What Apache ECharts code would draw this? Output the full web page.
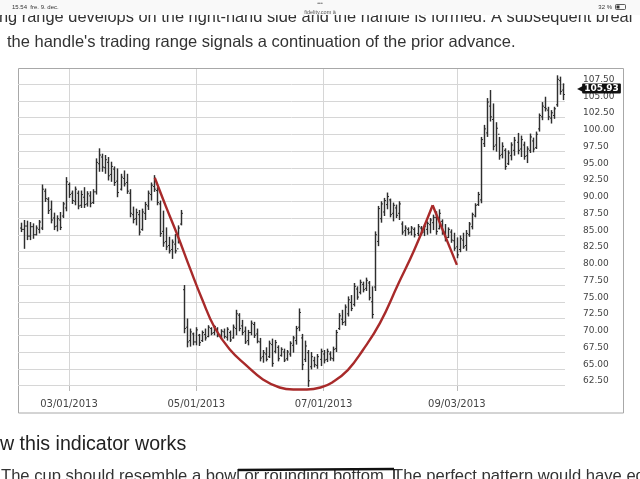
<!DOCTYPE html>
<html><head><meta charset="utf-8">
<script src="https://cdn.jsdelivr.net/npm/echarts@6/dist/echarts.min.js"></script>
<style>html,body{margin:0;padding:0;background:#fff;overflow:hidden}#c{width:640px;height:479px}</style>
</head><body><div id="c"></div>
<script>
// ---- calendar (trading days) and axis labels ----
const startDate = '2013-02-06';
const marketHolidays = ['2013-02-18','2013-03-29','2013-05-27','2013-07-04','2013-09-02'];
const tickLabels = ['03/01/2013','05/01/2013','07/01/2013','09/03/2013'];
const yTickMin = 62.5, yTickMax = 107.5, yTickStep = 2.5;
const lastPrice = 105.93;

// ---- daily OHLC values ----
const opens = [
 86.0,85.8,86.3,84.8,86.2,85.0,85.8,86.0,91.5,90.3,
 88.8,87.5,86.3,87.2,87.8,89.0,92.5,91.2,90.0,91.2,
 89.4,90.6,89.6,90.8,89.8,91.4,95.6,96.6,95.0,95.8,
 94.0,94.8,93.0,91.8,93.4,92.8,91.2,88.0,87.4,88.0,
 85.8,88.2,89.3,91.0,92.2,91.6,89.6,85.5,84.0,83.4,
 82.8,83.6,82.9,86.6,76.8,71.2,69.2,70.2,69.0,70.0,
 69.2,70.1,69.8,71.0,70.4,70.9,70.0,70.5,69.7,70.4,
 69.6,71.0,73.0,71.4,70.6,69.2,70.4,71.6,70.2,69.0,
 66.8,67.2,66.8,68.6,67.6,68.2,67.0,67.5,66.5,67.2,
 68.5,69.2,71.2,69.6,66.4,67.4,65.3,66.2,65.5,66.4,
 67.2,66.4,67.2,66.5,68.0,71.0,72.4,72.0,73.2,74.9,
 74.6,76.9,76.4,77.6,77.0,77.8,75.0,77.2,84.0,87.4,
 88.4,89.5,90.2,88.2,89.0,88.2,86.6,85.6,85.8,85.4,
 85.8,85.2,86.0,85.4,85.8,86.5,86.8,87.6,85.9,87.0,
 85.4,84.6,85.4,84.1,83.2,82.8,84.2,83.4,85.0,86.2,
 87.8,89.5,90.2,98.6,100.2,104.2,102.2,98.4,100.0,97.0,
 97.6,95.6,96.8,97.6,98.8,97.8,98.4,96.8,97.6,99.0,
 98.0,100.8,102.6,104.0,103.6,102.4,102.8,104.4,108.0,106.6];
const highs = [
 86.8,87.2,87.1,86.9,86.7,86.4,87.2,92.5,91.9,90.6,
 90.1,88.3,87.9,88.4,89.9,93.6,92.8,91.6,92.2,91.6,
 91.6,92.1,91.5,91.5,91.8,96.4,97.9,97.1,96.9,96.6,
 95.9,95.2,94.9,94.1,94.6,94.1,91.8,89.2,88.9,88.7,
 88.9,89.9,91.6,92.8,93.9,92.1,90.1,88.6,86.1,84.7,
 84.3,85.1,86.4,88.7,77.5,72.5,71.0,70.4,71.2,70.2,
 70.7,71.0,71.5,71.2,71.5,71.2,70.9,71.0,71.2,70.7,
 71.6,73.8,73.3,72.3,71.3,70.8,72.2,72.0,71.0,69.6,
 67.8,68.2,69.2,69.5,69.3,68.5,68.2,68.0,67.8,69.1,
 69.9,71.4,74.0,70.2,69.2,67.8,67.5,66.8,67.2,68.0,
 67.8,68.0,67.6,68.3,70.8,73.3,73.8,74.6,75.8,76.0,
 77.8,77.3,78.3,78.0,78.6,78.1,77.3,85.5,89.3,90.0,
 90.5,91.3,90.4,89.8,89.5,90.0,87.0,86.4,86.1,86.3,
 86.1,86.6,86.3,86.5,87.0,87.5,88.0,88.5,88.8,87.3,
 86.6,86.1,85.8,85.3,84.6,84.9,85.3,85.7,86.9,88.3,
 89.7,91.4,99.6,101.4,105.4,106.6,104.6,101.8,99.6,98.8,
 97.9,97.6,98.8,99.6,100.2,99.8,98.9,98.2,100.1,99.5,
 100.4,103.1,104.8,105.6,104.1,103.6,104.1,108.8,108.6,107.6];
const lows = [
 85.4,82.9,84.2,84.2,84.4,84.9,85.2,85.7,89.9,88.1,
 86.7,85.7,85.5,85.7,87.5,88.5,90.5,89.6,89.4,88.8,
 89.0,89.0,89.2,89.1,89.6,91.0,94.4,94.4,94.1,93.1,
 92.9,92.3,90.6,91.6,92.2,91.1,87.6,86.7,86.4,84.9,
 85.6,87.2,88.7,90.1,91.4,89.4,84.7,83.2,82.7,82.2,
 81.4,82.2,83.7,86.4,70.3,68.2,68.3,68.5,68.5,68.4,
 69.0,69.2,69.7,70.0,70.0,69.7,69.5,69.5,69.2,69.0,
 69.5,70.0,70.6,70.0,68.7,68.5,70.0,69.6,68.8,66.1,
 65.9,66.1,66.6,65.3,67.3,66.1,66.8,66.0,66.2,66.8,
 67.4,68.6,70.6,64.8,66.0,62.3,64.9,65.2,65.0,65.4,
 65.8,66.0,66.2,66.1,67.5,70.8,71.5,71.4,72.8,73.6,
 74.3,75.3,76.1,76.4,76.6,75.2,72.5,76.6,83.3,86.8,
 87.8,88.8,87.6,87.0,87.5,87.2,85.0,84.8,85.0,84.9,
 84.6,84.8,84.9,84.8,85.0,85.2,85.7,85.0,85.8,85.0,
 84.0,84.5,83.8,82.6,81.5,82.4,82.9,82.6,84.7,85.8,
 87.6,89.3,89.7,98.1,99.6,101.9,97.6,97.4,96.2,96.4,
 94.7,95.4,96.1,96.8,97.0,96.6,96.2,95.7,97.2,97.3,
 97.8,100.4,102.1,103.4,102.1,101.6,102.3,104.1,105.9,105.1];
const closes = [
 85.8,86.3,84.8,86.2,85.0,86.0,86.9,91.8,90.4,88.6,
 87.2,86.2,87.4,86.1,89.6,92.9,91.0,90.1,91.8,89.3,
 91.0,89.5,91.1,89.7,91.4,95.8,96.9,95.1,96.2,93.8,
 95.2,92.8,91.3,93.6,92.6,91.5,88.2,87.3,88.3,85.4,
 88.4,89.5,91.2,92.4,91.8,89.8,85.2,83.8,83.2,82.6,
 83.9,82.6,86.0,88.2,71.0,69.0,70.5,69.0,70.8,68.9,
 70.4,69.6,71.2,70.3,71.3,69.9,70.6,69.8,70.9,69.3,
 71.2,73.2,71.0,70.4,69.0,70.4,71.8,70.0,69.1,66.6,
 67.4,66.4,68.8,65.8,68.9,66.5,67.9,66.3,67.5,68.8,
 69.6,71.0,73.4,65.6,68.4,63.2,66.8,65.6,66.8,67.6,
 66.3,67.6,66.6,67.9,70.4,72.9,71.9,74.2,75.3,74.0,
 77.3,75.7,77.9,76.8,78.2,75.6,73.1,85.0,88.9,89.6,
 90.1,90.7,88.0,89.4,87.9,89.6,85.4,86.0,85.3,86.0,
 85.0,86.2,85.3,86.2,86.7,87.2,87.6,85.5,88.2,85.6,
 84.4,85.8,84.2,83.0,82.0,84.4,83.2,85.2,86.6,88.0,
 89.4,91.0,99.2,100.8,104.8,102.6,98.2,100.9,96.8,98.2,
 95.2,97.2,98.4,99.1,97.6,99.2,96.7,97.8,99.6,97.8,
 100.0,102.8,104.2,103.8,102.6,103.2,103.8,108.2,106.4,105.93];

// ---- hand-drawn cup & handle annotation (bar index, price) ----
const cupX = [44.3,48,52,56,60,64,69,74.5,80,85.5,90,94.5,99,103,108,113,118.6,124.6,130,136];
const cupY = [93.5,89.2,84.7,79.9,75.3,71.2,67.9,65.5,63.4,62.2,61.9,61.9,62.2,63.0,64.8,67.8,71.8,77.6,82.8,89.4];
const handleX = [136,144];
const handleY = [89.4,80.5];

function tradingDays(start, n) {
  const out = [];
  const d = new Date(start + 'T12:00:00Z');
  while (out.length < n) {
    const wd = d.getUTCDay();
    const iso = d.toISOString().slice(0, 10);
    if (wd !== 0 && wd !== 6 && marketHolidays.indexOf(iso) < 0) {
      out.push(iso.slice(5, 7) + '/' + iso.slice(8, 10) + '/' + iso.slice(0, 4));
    }
    d.setUTCDate(d.getUTCDate() + 1);
  }
  return out;
}
const categories = tradingDays(startDate, highs.length).concat(['']);
const N = categories.length;
const ohlc = highs.map((h, i) => [i, opens[i], h, lows[i], closes[i]]);
const isTick = (idx, val) => tickLabels.indexOf(val) >= 0;

// layout (pixels)
const G = {left: 20.5, right: 566, top: 69, bottom: 386};
const yTop = 84, yBot = 385.5;
const pxPerUnit = (yBot - yTop) / (yTickMax - yTickMin);
const dataMax = yTickMax + (yTop - G.top) / pxPerUnit;
const dataMin = yTickMin - (G.bottom - yBot) / pxPerUnit;

const chart = echarts.init(document.getElementById('c'), null, {renderer: 'canvas'});
const pageFont = '"Liberation Sans", Arial, sans-serif';

chart.setOption({
  animation: false,
  backgroundColor: '#ffffff',
  grid: [
    {left: G.left, right: 640 - G.right, top: G.top, bottom: 479 - G.bottom},
    {left: 18, right: 640 - 565, top: yTop, bottom: 479 - yBot}
  ],
  xAxis: [
    {type: 'category', gridIndex: 0, data: categories, boundaryGap: false,
     axisLine: {show: false},
     axisTick: {show: true, interval: isTick, length: 5, lineStyle: {color: '#bbbbbb'}},
     axisLabel: {interval: isTick, hideOverlap: false, color: '#444', fontSize: 10,
                 fontFamily: 'DejaVu Sans', margin: 13},
     splitLine: {show: true, interval: isTick, lineStyle: {color: '#d6d6d6', width: 1}}},
    {type: 'value', gridIndex: 0, min: 0, max: N - 1, show: false},
    {type: 'value', gridIndex: 1, min: 0, max: 1, show: false}
  ],
  yAxis: [
    {type: 'value', gridIndex: 0, min: dataMin, max: dataMax, show: false, splitLine: {show: false}},
    {type: 'value', gridIndex: 1, position: 'right', min: yTickMin, max: yTickMax, interval: yTickStep,
     axisLine: {show: false}, axisTick: {show: false},
     axisLabel: {color: '#444', fontSize: 9, fontFamily: 'DejaVu Sans', margin: 18, verticalAlign: 'bottom',
                 formatter: v => v.toFixed(2)},
     splitLine: {show: true, lineStyle: {color: '#d6d6d6', width: 1}}}
  ],
  series: [
    {type: 'line', xAxisIndex: 2, yAxisIndex: 1, data: [], silent: true},
    {type: 'custom', xAxisIndex: 0, yAxisIndex: 0, data: ohlc, encode: {x: 0, y: [1, 2, 3, 4]}, z: 3,
     renderItem: function (params, api) {
       const i = api.value(0);
       const x = Math.round(api.coord([i, api.value(2)])[0]) + 0.5;
       const yo = api.coord([i, api.value(1)])[1];
       const yh = api.coord([i, api.value(2)])[1];
       const yl = api.coord([i, api.value(3)])[1];
       const yc = api.coord([i, api.value(4)])[1];
       const st = {stroke: '#2e2e2e', lineWidth: 1.45};
       return {type: 'group', children: [
         {type: 'line', shape: {x1: x, y1: yh, x2: x, y2: yl}, style: st},
         {type: 'line', shape: {x1: x - 1.5, y1: yo, x2: x, y2: yo}, style: {stroke: '#2e2e2e', lineWidth: 1}},
         {type: 'line', shape: {x1: x, y1: yc, x2: x + 1.5, y2: yc}, style: {stroke: '#2e2e2e', lineWidth: 1}}
       ]};
     },
     markLine: {silent: true, symbol: 'none', animation: false,
       lineStyle: {width: 0, color: 'rgba(0,0,0,0)'},
       data: [{yAxis: lastPrice}],
       label: {show: true, position: 'end', distance: 11,
         formatter: '{a|\u25C0}{b|' + lastPrice.toFixed(2) + '}',
         padding: [0, 0, 12, 0],
         rich: {
           a: {color: '#111', fontSize: 8, fontFamily: 'DejaVu Sans', padding: [0, -1, 0, 0]},
           b: {color: '#fff', backgroundColor: '#111', fontSize: 9, fontWeight: 'bold', fontFamily: 'DejaVu Sans',
               padding: [1, 2, 0, 2], borderRadius: 1}
         }}}
    },
    {type: 'line', xAxisIndex: 1, yAxisIndex: 0, data: cupX.map((x, k) => [x, cupY[k]]), smooth: 0.45,
     symbol: 'none', clip: false, z: 5, lineStyle: {color: '#a82a2a', width: 2.4}},
    {type: 'line', xAxisIndex: 1, yAxisIndex: 0, data: handleX.map((x, k) => [x, handleY[k]]), smooth: false,
     symbol: 'none', clip: false, z: 5, lineStyle: {color: '#a82a2a', width: 2.4}}
  ],
  graphic: [
    {type: 'rect', z: -1, shape: {x: 18.5, y: 68.5, width: 605, height: 344.5},
     style: {fill: 'none', stroke: '#a8a8a8', lineWidth: 1}},
    {type: 'text', z: 50, x: -1, y: 17, style: {text: 'ng range develops on the right-hand side and the handle is formed. A subsequent breal',
      font: '16.4px ' + pageFont, fill: '#333', textVerticalAlign: 'middle'}},
    {type: 'text', z: 50, x: 7, y: 42, style: {text: "the handle's trading range signals a continuation of the prior advance.",
      font: '16.5px ' + pageFont, fill: '#333', textVerticalAlign: 'middle'}},
    {type: 'text', z: 50, x: 0, y: 445, style: {text: 'w this indicator works',
      font: '19.6px ' + pageFont, fill: '#222', textVerticalAlign: 'middle'}},
    {type: 'text', z: 50, x: 1, y: 476, style: {text: 'The cup should resemble a bowl or rounding bottom. The perfect pattern would have eq',
      font: '16.6px ' + pageFont, fill: '#333', textVerticalAlign: 'middle'}},
    {type: 'line', z: 60, shape: {x1: 238, y1: 470, x2: 394, y2: 469}, style: {stroke: '#111', lineWidth: 2.5}},
    {type: 'line', z: 60, shape: {x1: 394, y1: 469, x2: 394, y2: 479}, style: {stroke: '#111', lineWidth: 1.5}},
    {type: 'rect', z: 100, shape: {x: 0, y: 0, width: 640, height: 15}, style: {fill: '#f9f9f9'}},
    {type: 'text', z: 101, x: 12, y: 7, style: {text: '15.54  fre. 9. dec.', font: '6px ' + pageFont, fill: '#333', textVerticalAlign: 'middle'}},
    {type: 'text', z: 101, x: 320, y: 4, style: {text: '\u2022\u2022\u2022', font: '5px ' + pageFont, fill: '#666', textAlign: 'center', textVerticalAlign: 'middle'}},
    {type: 'text', z: 101, x: 320, y: 12, style: {text: 'fidelity.com \u00e4', font: '5.5px ' + pageFont, fill: '#555', textAlign: 'center', textVerticalAlign: 'middle'}},
    {type: 'text', z: 101, x: 612, y: 7, style: {text: '32 %', font: '6px ' + pageFont, fill: '#333', textAlign: 'right', textVerticalAlign: 'middle'}},
    {type: 'rect', z: 101, shape: {x: 615.5, y: 4.5, width: 10, height: 5, r: 1}, style: {fill: 'none', stroke: '#333', lineWidth: 0.8}},
    {type: 'rect', z: 101, shape: {x: 616.5, y: 5.5, width: 3, height: 3}, style: {fill: '#333'}}
  ]
});
</script></body></html>
